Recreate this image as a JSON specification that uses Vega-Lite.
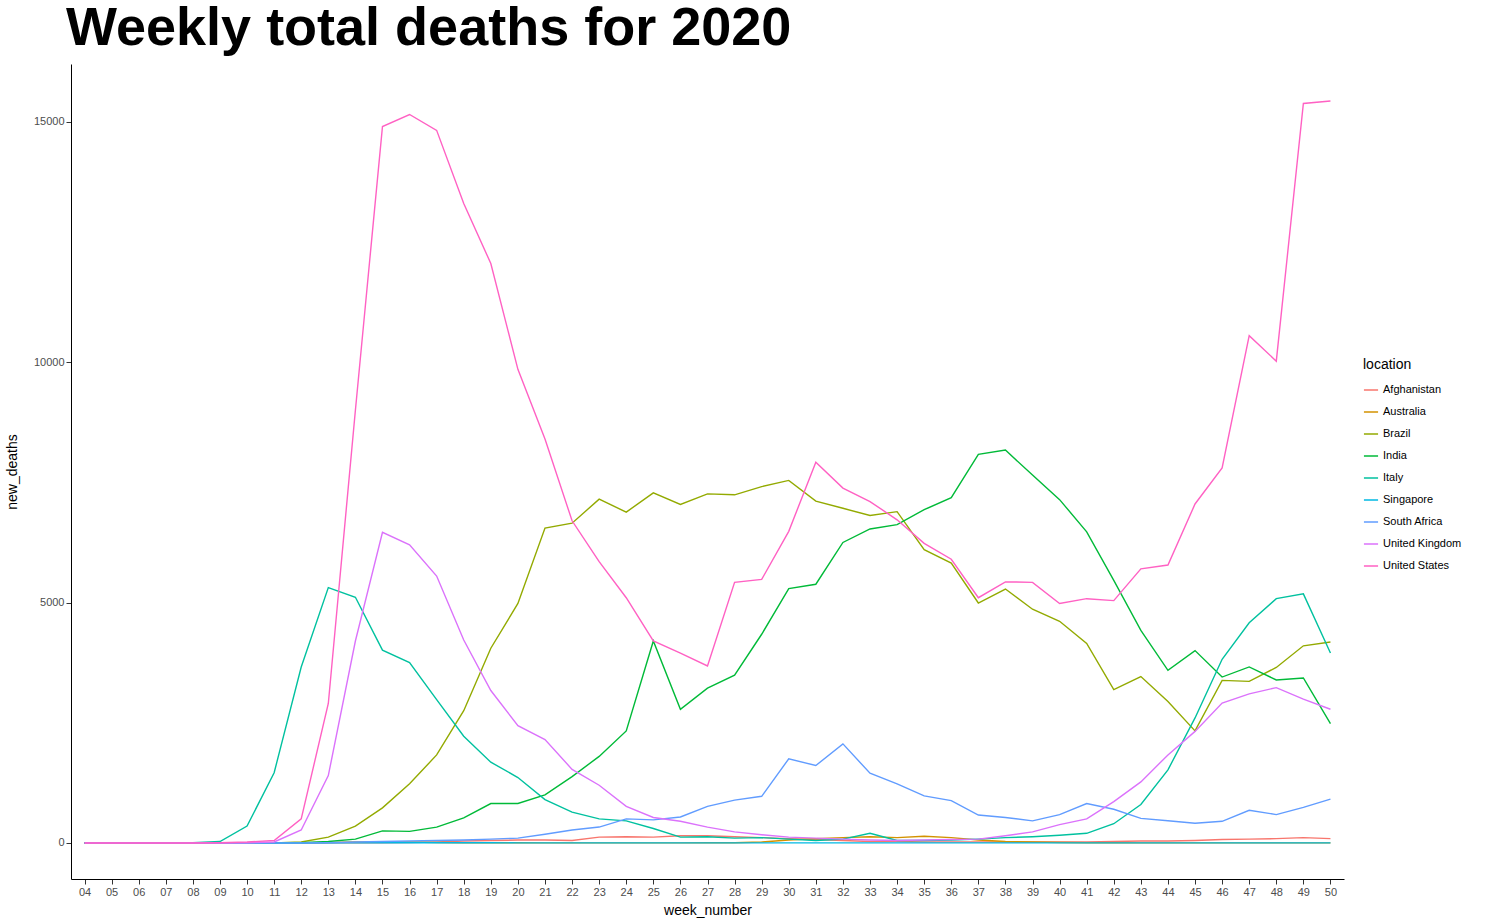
{
  "$schema": "https://vega.github.io/schema/vega-lite/v6.json",
  "width": 1273,
  "height": 815,
  "padding": {"left": 5, "top": 2, "right": 10, "bottom": 5},
  "background": "white",
  "config": {
    "font": "Liberation Sans",
    "view": {"stroke": null},
    "axis": {"grid": false, "domainColor": "black", "tickColor": "#333", "labelColor": "#4d4d4d", "labelFontSize": 11, "titleFontSize": 14, "titleFontWeight": "normal", "titleColor": "black"}
  },
  "title": {"text": "Weekly total deaths for 2020", "anchor": "start", "frame": "group", "fontSize": 54, "fontWeight": "bold", "color": "black", "offset": 8, "dx": -5},
  "data": {"values": [
    {"w":"04","Afghanistan":0,"Australia":0,"Brazil":0,"India":0,"Italy":0,"Singapore":0,"South Africa":0,"United Kingdom":0,"United States":0},
    {"w":"05","Afghanistan":0,"Australia":0,"Brazil":0,"India":0,"Italy":0,"Singapore":0,"South Africa":0,"United Kingdom":0,"United States":0},
    {"w":"06","Afghanistan":0,"Australia":0,"Brazil":0,"India":0,"Italy":0,"Singapore":0,"South Africa":0,"United Kingdom":0,"United States":0},
    {"w":"07","Afghanistan":0,"Australia":0,"Brazil":0,"India":0,"Italy":0,"Singapore":0,"South Africa":0,"United Kingdom":0,"United States":0},
    {"w":"08","Afghanistan":0,"Australia":0,"Brazil":0,"India":0,"Italy":5,"Singapore":0,"South Africa":0,"United Kingdom":0,"United States":0},
    {"w":"09","Afghanistan":0,"Australia":0,"Brazil":0,"India":0,"Italy":30,"Singapore":0,"South Africa":0,"United Kingdom":0,"United States":5},
    {"w":"10","Afghanistan":0,"Australia":2,"Brazil":0,"India":0,"Italy":350,"Singapore":0,"South Africa":0,"United Kingdom":5,"United States":20},
    {"w":"11","Afghanistan":0,"Australia":3,"Brazil":0,"India":2,"Italy":1460,"Singapore":0,"South Africa":0,"United Kingdom":20,"United States":50},
    {"w":"12","Afghanistan":0,"Australia":5,"Brazil":20,"India":5,"Italy":3660,"Singapore":0,"South Africa":0,"United Kingdom":270,"United States":500},
    {"w":"13","Afghanistan":2,"Australia":10,"Brazil":120,"India":30,"Italy":5310,"Singapore":2,"South Africa":5,"United Kingdom":1400,"United States":2900},
    {"w":"14","Afghanistan":3,"Australia":20,"Brazil":350,"India":80,"Italy":5110,"Singapore":2,"South Africa":20,"United Kingdom":4200,"United States":9000},
    {"w":"15","Afghanistan":5,"Australia":20,"Brazil":730,"India":250,"Italy":4010,"Singapore":3,"South Africa":30,"United Kingdom":6460,"United States":14900},
    {"w":"16","Afghanistan":10,"Australia":20,"Brazil":1230,"India":240,"Italy":3750,"Singapore":5,"South Africa":40,"United Kingdom":6200,"United States":15150},
    {"w":"17","Afghanistan":20,"Australia":10,"Brazil":1830,"India":330,"Italy":2980,"Singapore":5,"South Africa":50,"United Kingdom":5550,"United States":14820},
    {"w":"18","Afghanistan":40,"Australia":5,"Brazil":2750,"India":520,"Italy":2220,"Singapore":5,"South Africa":60,"United Kingdom":4220,"United States":13300},
    {"w":"19","Afghanistan":50,"Australia":5,"Brazil":4050,"India":820,"Italy":1680,"Singapore":3,"South Africa":80,"United Kingdom":3170,"United States":12050},
    {"w":"20","Afghanistan":60,"Australia":3,"Brazil":4980,"India":820,"Italy":1360,"Singapore":2,"South Africa":100,"United Kingdom":2440,"United States":9850},
    {"w":"21","Afghanistan":60,"Australia":2,"Brazil":6550,"India":1000,"Italy":900,"Singapore":2,"South Africa":180,"United Kingdom":2150,"United States":8400},
    {"w":"22","Afghanistan":50,"Australia":1,"Brazil":6650,"India":1380,"Italy":640,"Singapore":2,"South Africa":270,"United Kingdom":1530,"United States":6700},
    {"w":"23","Afghanistan":120,"Australia":1,"Brazil":7150,"India":1800,"Italy":500,"Singapore":2,"South Africa":330,"United Kingdom":1200,"United States":5850},
    {"w":"24","Afghanistan":130,"Australia":1,"Brazil":6880,"India":2330,"Italy":460,"Singapore":2,"South Africa":500,"United Kingdom":760,"United States":5100},
    {"w":"25","Afghanistan":120,"Australia":1,"Brazil":7280,"India":4200,"Italy":300,"Singapore":2,"South Africa":480,"United Kingdom":530,"United States":4200},
    {"w":"26","Afghanistan":150,"Australia":2,"Brazil":7040,"India":2780,"Italy":120,"Singapore":2,"South Africa":540,"United Kingdom":450,"United States":3950},
    {"w":"27","Afghanistan":150,"Australia":3,"Brazil":7260,"India":3220,"Italy":130,"Singapore":1,"South Africa":760,"United Kingdom":330,"United States":3680},
    {"w":"28","Afghanistan":130,"Australia":5,"Brazil":7240,"India":3490,"Italy":100,"Singapore":1,"South Africa":890,"United Kingdom":230,"United States":5420},
    {"w":"29","Afghanistan":110,"Australia":20,"Brazil":7410,"India":4340,"Italy":110,"Singapore":1,"South Africa":970,"United Kingdom":170,"United States":5480},
    {"w":"30","Afghanistan":90,"Australia":60,"Brazil":7540,"India":5290,"Italy":80,"Singapore":1,"South Africa":1750,"United Kingdom":120,"United States":6480},
    {"w":"31","Afghanistan":70,"Australia":90,"Brazil":7110,"India":5380,"Italy":50,"Singapore":1,"South Africa":1610,"United Kingdom":100,"United States":7920},
    {"w":"32","Afghanistan":50,"Australia":110,"Brazil":6960,"India":6250,"Italy":80,"Singapore":1,"South Africa":2060,"United Kingdom":80,"United States":7380},
    {"w":"33","Afghanistan":30,"Australia":130,"Brazil":6810,"India":6530,"Italy":200,"Singapore":1,"South Africa":1450,"United Kingdom":60,"United States":7100},
    {"w":"34","Afghanistan":30,"Australia":110,"Brazil":6890,"India":6620,"Italy":50,"Singapore":1,"South Africa":1230,"United Kingdom":50,"United States":6720},
    {"w":"35","Afghanistan":20,"Australia":140,"Brazil":6100,"India":6930,"Italy":50,"Singapore":1,"South Africa":980,"United Kingdom":60,"United States":6230},
    {"w":"36","Afghanistan":20,"Australia":110,"Brazil":5820,"India":7180,"Italy":60,"Singapore":1,"South Africa":880,"United Kingdom":70,"United States":5900},
    {"w":"37","Afghanistan":20,"Australia":60,"Brazil":4990,"India":8080,"Italy":80,"Singapore":1,"South Africa":580,"United Kingdom":80,"United States":5100},
    {"w":"38","Afghanistan":20,"Australia":30,"Brazil":5280,"India":8170,"Italy":110,"Singapore":1,"South Africa":530,"United Kingdom":150,"United States":5430},
    {"w":"39","Afghanistan":20,"Australia":20,"Brazil":4860,"India":7650,"Italy":130,"Singapore":1,"South Africa":460,"United Kingdom":230,"United States":5420},
    {"w":"40","Afghanistan":20,"Australia":10,"Brazil":4610,"India":7140,"Italy":160,"Singapore":1,"South Africa":590,"United Kingdom":380,"United States":4980},
    {"w":"41","Afghanistan":20,"Australia":5,"Brazil":4150,"India":6470,"Italy":200,"Singapore":1,"South Africa":820,"United Kingdom":500,"United States":5080},
    {"w":"42","Afghanistan":30,"Australia":3,"Brazil":3190,"India":5460,"Italy":400,"Singapore":1,"South Africa":700,"United Kingdom":860,"United States":5040},
    {"w":"43","Afghanistan":40,"Australia":2,"Brazil":3460,"India":4420,"Italy":800,"Singapore":1,"South Africa":510,"United Kingdom":1270,"United States":5700},
    {"w":"44","Afghanistan":40,"Australia":2,"Brazil":2940,"India":3590,"Italy":1520,"Singapore":1,"South Africa":460,"United Kingdom":1830,"United States":5780},
    {"w":"45","Afghanistan":50,"Australia":1,"Brazil":2330,"India":4000,"Italy":2600,"Singapore":1,"South Africa":410,"United Kingdom":2320,"United States":7050},
    {"w":"46","Afghanistan":70,"Australia":1,"Brazil":3380,"India":3450,"Italy":3820,"Singapore":1,"South Africa":450,"United Kingdom":2910,"United States":7800},
    {"w":"47","Afghanistan":80,"Australia":1,"Brazil":3360,"India":3660,"Italy":4580,"Singapore":1,"South Africa":680,"United Kingdom":3100,"United States":10550},
    {"w":"48","Afghanistan":90,"Australia":1,"Brazil":3650,"India":3390,"Italy":5080,"Singapore":1,"South Africa":590,"United Kingdom":3230,"United States":10020},
    {"w":"49","Afghanistan":110,"Australia":1,"Brazil":4100,"India":3430,"Italy":5180,"Singapore":1,"South Africa":740,"United Kingdom":2990,"United States":15380},
    {"w":"50","Afghanistan":90,"Australia":1,"Brazil":4180,"India":2480,"Italy":3950,"Singapore":1,"South Africa":910,"United Kingdom":2780,"United States":15430}
  ]},
  "transform": [
    {"fold": ["Afghanistan","Australia","Brazil","India","Italy","Singapore","South Africa","United Kingdom","United States"], "as": ["location","new_deaths"]}
  ],
  "mark": {"type": "line", "strokeWidth": 1.4},
  "encoding": {
    "x": {"field": "w", "type": "ordinal", "title": "week_number", "scale": {"type": "point", "padding": 0.5}, "axis": {"labelAngle": 0, "titlePadding": 6}},
    "y": {"field": "new_deaths", "type": "quantitative", "title": "new_deaths", "scale": {"domain": [-750, 16200], "nice": false, "zero": false}, "axis": {"values": [0, 5000, 10000, 15000], "format": "d", "titlePadding": 14}},
    "color": {"field": "location", "type": "nominal", "scale": {"range": ["#F8766D","#D39200","#93AA00","#00BA38","#00C19F","#00B9E3","#619CFF","#DB72FB","#FF61C3"]}, "legend": {"title": "location", "titleFontSize": 14, "titleFontWeight": "normal", "titleColor": "black", "titlePadding": 10, "labelFontSize": 11, "symbolType": "stroke", "symbolStrokeWidth": 1.5, "symbolSize": 200, "rowPadding": 9, "orient": "none", "legendX": 1292, "legendY": 294}}
  }
}
